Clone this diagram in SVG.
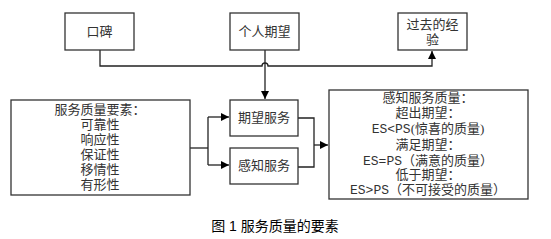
<svg xmlns="http://www.w3.org/2000/svg" width="551" height="239" viewBox="0 0 551 239">
<style>
.box{fill:#fff;stroke:#333;stroke-width:1.3}
.t{font-family:"Liberation Serif","Noto Sans CJK SC",serif;font-size:13px;fill:#333;text-anchor:middle}
.m{font-family:"Liberation Mono","Noto Sans CJK SC",monospace}
.ln{fill:none;stroke:#222;stroke-width:1.3}
.cap{font-family:"Liberation Sans","Noto Sans CJK SC",sans-serif;font-size:14px;fill:#000;text-anchor:middle}
</style>
<defs>
<marker id="ah" viewBox="0 0 10 10" refX="10" refY="5" markerWidth="8" markerHeight="8" markerUnits="userSpaceOnUse" orient="auto">
<path d="M0,0 L10,5 L0,10 Z" fill="#000"/>
</marker>
</defs>
<g id="connectors">
<path class="ln" d="M100,50 V66 H262 A3,3 0 0 1 268,66 H432 V51" marker-end="url(#ah)"/>
<path class="ln" d="M265,50 V99" marker-end="url(#ah)"/>
<path class="ln" d="M190,148 H208"/>
<path class="ln" d="M208,117 V165"/>
<path class="ln" d="M208,117 H229" marker-end="url(#ah)"/>
<path class="ln" d="M208,165 H229" marker-end="url(#ah)"/>
<path class="ln" d="M298,118 H314 V167 H298"/>
<path class="ln" d="M314,145 H328" marker-end="url(#ah)"/>
</g>
<g id="koubei"><rect class="box" x="65" y="13" width="69" height="37"/><text class="t" x="99.5" y="36">口碑</text></g>
<g id="geren"><rect class="box" x="230" y="13" width="69" height="37"/><text class="t" x="264.5" y="36">个人期望</text></g>
<g id="guoqu"><rect class="box" x="398" y="13" width="69" height="37"/><text class="t" x="432.5" y="29">过去的经</text><text class="t" x="432.5" y="44">验</text></g>
<g id="yaosu"><rect class="box" x="11" y="100" width="179" height="95"/>
<text class="t" x="100" y="114">服务质量要素：</text>
<text class="t" x="100" y="129">可靠性</text>
<text class="t" x="100" y="144">响应性</text>
<text class="t" x="100" y="159">保证性</text>
<text class="t" x="100" y="174">移情性</text>
<text class="t" x="100" y="189">有形性</text>
</g>
<g id="qiwang"><rect class="box" x="230" y="100" width="68" height="36"/><text class="t" x="264" y="122">期望服务</text></g>
<g id="ganzhi"><rect class="box" x="230" y="148" width="68" height="36"/><text class="t" x="264" y="170">感知服务</text></g>
<g id="zhiliang"><rect class="box" x="329" y="90" width="199" height="109"/>
<text class="t" x="428" y="102">感知服务质量：</text>
<text class="t" x="428" y="117">超出期望：</text>
<text class="t" x="428" y="133"><tspan class="m">ES&lt;PS</tspan>(惊喜的质量)</text>
<text class="t" x="428" y="149">满足期望：</text>
<text class="t" x="428" y="165"><tspan class="m">ES=PS</tspan>（满意的质量）</text>
<text class="t" x="428" y="179">低于期望：</text>
<text class="t" x="428" y="194"><tspan class="m">ES&gt;PS</tspan>（不可接受的质量）</text>
</g>
<text class="cap" x="275" y="231">图 1 服务质量的要素</text>
</svg>
